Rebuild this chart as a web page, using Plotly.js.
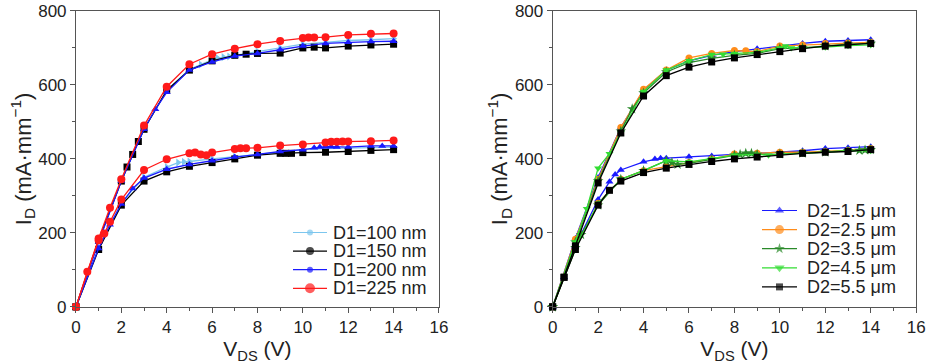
<!DOCTYPE html>
<html><head><meta charset="utf-8">
<script src="https://cdn.plot.ly/plotly-3.0.1.min.js"></script>
<style>html,body{margin:0;padding:0;background:#fff}#c{width:932px;height:364px}</style>
</head><body><div id="c"></div>
<script>
// ---- Left panel (D1) ----
const d1Names = ["D1=100 nm","D1=150 nm","D1=200 nm","D1=225 nm"];
const d1Colors = ["#7cc6ee","#000000","#1a1aff","#ff1a1a"];
const d1Symbols = ["triangle-right","square","triangle-up","circle"];
const d1LegendSize = [6,8,6,10];

const d1_100_xUp = [0,1,2,3,4,5,5.5,6,6.25,6.5,6.75,7,8,9,10,11,12,13,14];
const d1_100_yUp = [0,180,340,480,585,642,655,668,672,675,677,680,690,700,710,715,720,722,725];
const d1_100_xLo = [0,1,2,3,4,4.5,4.75,5,6,7,8,9,10,11,12,13,14];
const d1_100_yLo = [0,160,282,350,378,390,392,393,400,405,412,418,425,428,430,432,432];

const d1_150_xUp = [0,1,2,2.25,2.5,2.75,3,4,5,6,7,7.5,8,9,10,10.5,11,12,13,14];
const d1_150_yUp = [0,180,340,378,412,447,480,585,640,665,680,683,685,686,700,702,700,705,708,710];
const d1_150_xLo = [0,1,2,3,4,5,6,7,8,9,9.25,9.5,10,11,12,13,14];
const d1_150_yLo = [0,155,275,340,365,380,390,400,410,415,415,415,417,418,420,423,425];

const d1_200_xUp = [0,1,2,3,3.5,4,5,6,7,8,9,10,11,12,13,14];
const d1_200_yUp = [0,175,340,480,534,580,640,662,678,685,695,705,712,715,717,718];
const d1_200_xLo = [0,1,1.5,2,2.5,3,4,5,6,7,8,9,10,10.5,10.75,11,11.25,11.5,12,13,13.5,14];
const d1_200_yLo = [0,158,222,278,320,348,372,385,395,405,412,420,425,430,432,433,433,432,432,435,435,435];

const d1_225_xUp = [0,1,1.5,2,3,4,5,6,7,8,9,10,10.25,10.5,11,12,13,14];
const d1_225_yUp = [0,185,268,345,490,595,656,683,698,710,719,727,728,728,729,735,738,739];
const d1_225_xLo = [0,0.5,1,1.25,1.5,2,3,4,5,5.25,5.5,5.75,6,7,7.25,7.5,8,9,10,11,11.25,11.5,11.75,12,13,14];
const d1_225_yLo = [0,95,180,198,230,290,370,399,415,417,412,410,417,427,429,429,430,436,439,444,446,446,447,447,448,450];

// ---- Right panel (D2) ----
const d2Names = ["D2=1.5 μm","D2=2.5 μm","D2=3.5 μm","D2=4.5 μm","D2=5.5 μm"];
const d2Colors = ["#1a1aff","#ff8c1a","#2a8a2a","#33dd33","#000000"];
const d2Symbols = ["triangle-up","circle","star","triangle-down","square"];
const d2LegendSize = [8,9,8,9,7];

const d2_15_xUp = [0,1,2,3,4,5,6,7,8,9,10,11,12,13,14];
const d2_15_yUp = [0,185,350,485,585,640,665,680,690,698,705,712,718,720,722];
const d2_15_xLo = [0,0.5,1,2,2.5,2.75,3,4,4.5,4.75,5,6,7,8,9,10,11,12,13,14];
const d2_15_yLo = [0,80,165,290,338,358,370,392,400,402,402,406,408,412,415,418,422,428,430,433];

const d2_25_xUp = [0,1,2,3,4,5,6,7,8,8.5,9,10,11,12,13,14];
const d2_25_yUp = [0,183,345,485,588,640,673,685,693,692,690,705,708,712,713,715];
const d2_25_xLo = [0,1,2,3,4,5,6,7,8,9,10,11,12,13,14];
const d2_25_yLo = [0,160,280,345,368,380,390,400,413,415,418,418,420,423,428];

const d2_35_xUp = [0,1,2,3,3.5,4,5,6,7,8,9,10,11,12,13,14];
const d2_35_yUp = [0,175,340,475,535,578,635,660,672,680,685,698,700,705,710,712];
const d2_35_xLo = [0,1,1.25,2,3,4,5,5.25,5.5,6,7,8,8.25,8.5,8.75,9,10,11,12,13,13.5,13.75,14];
const d2_35_yLo = [0,160,195,275,345,368,395,390,385,388,398,410,412,415,415,412,413,415,418,422,423,424,425];

const d2_45_xUp = [0,1,1.5,2,2.5,3,4,5,6,7,7.5,8,9,10,10.25,10.5,11,12,13,14];
const d2_45_yUp = [0,175,265,375,414,470,582,640,665,682,683,685,688,700,705,700,700,702,706,708];
const d2_45_xLo = [0,1,2,3,4,5,6,7,8,9,9.5,10,11,12,13,14];
const d2_45_yLo = [0,160,280,345,368,395,392,400,410,412,410,412,415,418,422,422];

const d2_55_xUp = [0,0.5,1,2,3,4,5,6,7,8,9,10,11,12,13,14];
const d2_55_yUp = [0,80,165,335,470,570,625,648,662,673,682,690,698,705,708,712];
const d2_55_xLo = [0,0.5,1,2,2.5,3,4,5,6,7,8,9,10,11,12,13,14];
const d2_55_yLo = [0,80,155,275,315,340,363,375,385,393,400,405,412,415,418,420,425];

const d1Data = [
  [d1_100_xUp,d1_100_yUp,d1_100_xLo,d1_100_yLo],
  [d1_150_xUp,d1_150_yUp,d1_150_xLo,d1_150_yLo],
  [d1_200_xUp,d1_200_yUp,d1_200_xLo,d1_200_yLo],
  [d1_225_xUp,d1_225_yUp,d1_225_xLo,d1_225_yLo]
];
const d2Data = [
  [d2_15_xUp,d2_15_yUp,d2_15_xLo,d2_15_yLo],
  [d2_25_xUp,d2_25_yUp,d2_25_xLo,d2_25_yLo],
  [d2_35_xUp,d2_35_yUp,d2_35_xLo,d2_35_yLo],
  [d2_45_xUp,d2_45_yUp,d2_45_xLo,d2_45_yLo],
  [d2_55_xUp,d2_55_yUp,d2_55_xLo,d2_55_yLo]
];

const traces = [];
d1Data.forEach((s,i)=>{
  const sz = i===3 ? 8 : 7;
  [[s[0],s[1]],[s[2],s[3]]].forEach(([x,y])=>{
    traces.push({x:x,y:y,type:"scatter",mode:"lines+markers",xaxis:"x",yaxis:"y",
      name:d1Names[i],showlegend:false,cliponaxis:false,
      line:{color:d1Colors[i],width:1.3},
      marker:{color:d1Colors[i],symbol:d1Symbols[i],size:sz}});
  });
});
d2Data.forEach((s,i)=>{
  const sz = d2Symbols[i]==="star" ? 8 : 7;
  [[s[0],s[1]],[s[2],s[3]]].forEach(([x,y])=>{
    traces.push({x:x,y:y,type:"scatter",mode:"lines+markers",xaxis:"x2",yaxis:"y2",
      name:d2Names[i],showlegend:false,cliponaxis:false,
      line:{color:d2Colors[i],width:1.3},
      marker:{color:d2Colors[i],symbol:d2Symbols[i],size:sz}});
  });
});

// ---- Compact legends (keys on a hidden pixel-space axis; Plotly's built-in legend rows are too tall) ----
const annotations = [];
function addLegend(names, colors, symbols, sizes, x0, x1, textX, yStart, step){
  names.forEach((n,i)=>{
    const yy = yStart + i*step;
    traces.push({x:[x0,(x0+x1)/2,x1],y:[yy,yy,yy],type:"scatter",mode:"lines+markers",
      xaxis:"x3",yaxis:"y3",showlegend:false,hoverinfo:"skip",cliponaxis:false,
      line:{color:colors[i],width:1.2},
      marker:{color:colors[i],symbol:symbols[i],size:[0,sizes[i],0],line:{width:0}}});
    annotations.push({xref:"x3",yref:"y3",x:textX,y:yy,text:n,showarrow:false,height:18,
      xanchor:"left",yanchor:"middle",font:{size:18,family:"Liberation Sans, Arial, sans-serif",color:"#222"}});
  });
}
addLegend(d1Names, d1Colors, ["circle","circle","circle","circle"], d1LegendSize, 293, 327, 331, 232.5, 18.6);
addLegend(d2Names, d2Colors, d2Symbols, d2LegendSize, 762, 797, 805, 210.5, 19.1);

const font = {family:"Liberation Sans, Arial, sans-serif",color:"#222"};
function xax(domain, anchor){
  return {domain:domain,anchor:anchor,range:[0,16],dtick:2,tick0:0,ticks:"outside",ticklen:5,tickwidth:1,
    tickcolor:"#555",showline:true,linecolor:"#555",linewidth:1,mirror:true,showgrid:false,zeroline:false,
    tickfont:{size:17,family:font.family,color:"#222"},
    minor:{dtick:1,ticks:"outside",ticklen:3,tickcolor:"#555",showgrid:false},
    title:{text:"V<sub>DS</sub> (V)",font:{size:21,family:font.family,color:"#222"},standoff:2}};
}
function yax(domain, anchor){
  return {domain:domain,anchor:anchor,range:[0,800],dtick:200,tick0:0,ticks:"outside",ticklen:5,tickwidth:1,
    tickcolor:"#555",showline:true,linecolor:"#555",linewidth:1,mirror:true,showgrid:false,zeroline:false,
    tickfont:{size:17,family:font.family,color:"#222"},
    minor:{dtick:100,ticks:"outside",ticklen:3,tickcolor:"#555",showgrid:false},
    title:{text:"I<sub>D</sub> (mA·mm<sup>−1</sup>)",font:{size:22,family:font.family,color:"#222"},standoff:0}};
}
const yDom = [0.157,0.970];
const layout = {
  width:932,height:364,margin:{l:0,r:0,t:0,b:0},paper_bgcolor:"#fff",plot_bgcolor:"rgba(0,0,0,0)",
  font:font,showlegend:false,
  xaxis:xax([0.0815,0.471],"y"), yaxis:yax(yDom,"x"),
  xaxis2:xax([0.593,0.983],"y2"), yaxis2:yax(yDom,"x2"),
  xaxis3:{domain:[0,1],anchor:"y3",range:[0,932],visible:false,fixedrange:true},
  yaxis3:{domain:[0,1],anchor:"x3",range:[364,0],visible:false,fixedrange:true},
  annotations:annotations
};
Plotly.newPlot("c",traces,layout,{displayModeBar:false,staticPlot:true});
</script></body></html>
